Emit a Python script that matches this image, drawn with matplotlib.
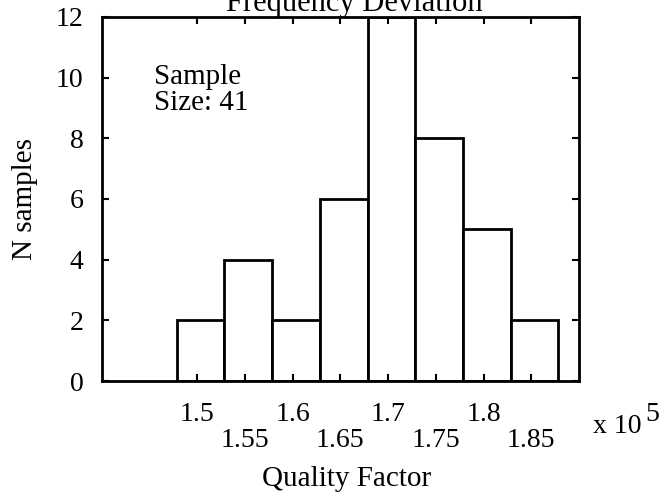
import matplotlib
matplotlib.use('Agg')
from matplotlib import pyplot as plt

# histogram data (Quality Factor, x 10^5)
bin_centers = [1.5035, 1.5535, 1.6035, 1.6535, 1.7035, 1.7535, 1.8035, 1.8535]
counts = [2, 4, 2, 6, 12, 8, 5, 2]
bin_width = 0.05

upper_ticks = [1.5, 1.6, 1.7, 1.8]
lower_ticks = [1.55, 1.65, 1.75, 1.85]
y_ticks = [0, 2, 4, 6, 8, 10, 12]

plt.rcParams['font.family'] = ['Liberation Serif', 'DejaVu Serif']
fs = 20

fig = plt.figure(figsize=(6.66, 4.97), dpi=100)
ax = fig.add_axes([0.1527, 0.2334, 0.7167, 0.7324])

ax.bar(bin_centers, counts, width=bin_width, color='white', edgecolor='black', linewidth=2)

ax.set_xlim(1.4, 1.9)
ax.set_ylim(0, 12)

ax.set_xticks(upper_ticks)
ax.set_xticklabels([str(t) for t in upper_ticks], fontsize=fs)
ax.set_xticks(lower_ticks, minor=True)
ax.set_xticklabels([str(t) for t in lower_ticks], minor=True, fontsize=fs)
ax.tick_params(axis='x', which='major', pad=15)
ax.tick_params(axis='x', which='minor', pad=34)
ax.tick_params(axis='x', which='both', direction='in', length=5, width=1.5, top=True)
ax.set_yticks(y_ticks)
ax.set_yticklabels([str(t) for t in y_ticks], fontsize=fs)
ax.tick_params(axis='y', direction='in', length=5, width=1.5, right=True, pad=13)

for s in ax.spines.values():
    s.set_linewidth(2)

ax.set_xlabel('Quality Factor', fontsize=21)
ax.xaxis.set_label_coords(0.514, -0.233)
ax.set_ylabel('N samples', fontsize=21, labelpad=13)

ax.text(1.455, 10.45, 'Sample\nSize: 41', fontsize=21, va='top', ha='left', linespacing=1.0)

# multiplier label
fig.text(0.890, 0.129, 'x 10', fontsize=fs)
fig.text(0.969, 0.152, '5', fontsize=20)
fig.text(0.532, 0.978, 'Frequency Deviation', fontsize=22, ha='center', va='baseline')

plt.savefig('out.png', dpi=100)
